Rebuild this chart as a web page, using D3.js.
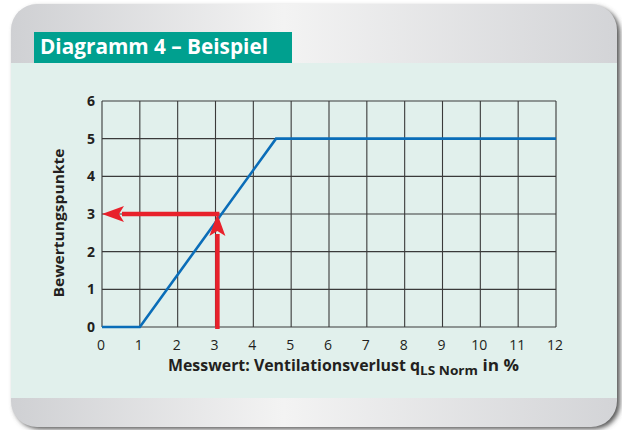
<!DOCTYPE html>
<html lang="de">
<head>
<meta charset="UTF-8">
<title>Diagramm 4 – Beispiel</title>
<script src="https://d3js.org/d3.v7.min.js"></script>
<style>
  body, html { margin: 0; padding: 0; background: #fff; }
  svg { display: block; }
  text { font-family: "Open Sans", Lato, sans-serif; fill: #231f20; }
</style>
</head>
<body>
<svg></svg>
<script>
  // data
  const xTicks = [0, 1, 2, 3, 4, 5, 6, 7, 8, 9, 10, 11, 12];
  const yTicks = [0, 1, 2, 3, 4, 5, 6];
  const curveX = [0, 1, 4.6, 12];
  const curveY = [0, 0, 5, 5];
  const exampleX = 3.05;   // Messwert im Beispiel
  const exampleY = 3;

  const W = 622, H = 430;
  const svg = d3.select("svg").attr("width", W).attr("height", H);
  const defs = svg.append("defs");

  // card gradient (grey - white - grey)
  const grad = defs.append("linearGradient").attr("id", "cardGrad")
    .attr("x1", "0%").attr("x2", "100%").attr("y1", "0%").attr("y2", "0%");
  grad.append("stop").attr("offset", "0%").attr("stop-color", "#cfd0d3");
  grad.append("stop").attr("offset", "45%").attr("stop-color", "#f3f3f3");
  grad.append("stop").attr("offset", "100%").attr("stop-color", "#d3d4d7");

  const shadow = defs.append("filter").attr("id", "shadow")
    .attr("x", "-5%").attr("y", "-5%").attr("width", "115%").attr("height", "115%");
  shadow.append("feGaussianBlur").attr("stdDeviation", 2.5);

  defs.append("clipPath").attr("id", "cardClip")
    .append("rect").attr("x", 11).attr("y", 4).attr("width", 606).attr("height", 423).attr("rx", 26);

  // card with shadow
  svg.append("rect").attr("x", 14).attr("y", 7).attr("width", 606).attr("height", 422).attr("rx", 26)
    .attr("fill", "#555").attr("filter", "url(#shadow)");
  svg.append("rect").attr("x", 11).attr("y", 4).attr("width", 606).attr("height", 423).attr("rx", 26)
    .attr("fill", "url(#cardGrad)");
  svg.append("rect").attr("clip-path", "url(#cardClip)")
    .attr("x", 11).attr("y", 63).attr("width", 606).attr("height", 335).attr("fill", "#e1f0ec");

  // title box
  svg.append("rect").attr("x", 34).attr("y", 32).attr("width", 258).attr("height", 31).attr("fill", "#00a08f");
  svg.append("text").attr("x", 40).attr("y", 54)
    .attr("textLength", 228).attr("lengthAdjust", "spacingAndGlyphs")
    .style("fill", "#fff").style("font-size", "21px").style("font-weight", 700)
    .text("Diagramm 4 – Beispiel");

  // scales
  const margin = { left: 102, top: 101, right: 556, bottom: 327 };
  const x = d3.scaleLinear().domain([0, 12]).range([margin.left, margin.right]);
  const y = d3.scaleLinear().domain([0, 6]).range([margin.bottom, margin.top]);

  const g = svg.append("g");

  // grid
  g.selectAll(".vgrid").data(xTicks).enter().append("line")
    .attr("x1", d => x(d)).attr("x2", d => x(d))
    .attr("y1", y(0)).attr("y2", y(6))
    .attr("stroke", "#3a3a3a").attr("stroke-width", 1.1);
  g.selectAll(".hgrid").data(yTicks).enter().append("line")
    .attr("x1", x(0)).attr("x2", x(12))
    .attr("y1", d => y(d)).attr("y2", d => y(d))
    .attr("stroke", "#3a3a3a").attr("stroke-width", 1.1);

  // axes labels
  g.selectAll(".xt").data(xTicks).enter().append("text")
    .attr("x", d => x(d) - 1).attr("y", 350)
    .attr("text-anchor", "middle").style("font-size", "14px")
    .text(d => d);
  g.selectAll(".yt").data(yTicks).enter().append("text")
    .attr("x", 95).attr("y", d => y(d) + 5)
    .attr("text-anchor", "end").style("font-size", "14px").style("font-weight", 700)
    .text(d => d);

  svg.append("text")
    .attr("transform", `translate(64,${(y(0) + y(6)) / 2 + 9}) rotate(-90)`)
    .attr("text-anchor", "middle").style("font-size", "15px").style("font-weight", 700)
    .attr("textLength", 149).attr("lengthAdjust", "spacingAndGlyphs")
    .text("Bewertungspunkte");

  const xl = svg.append("text").attr("x", 168).attr("y", 371)
    .style("font-size", "15.5px").style("font-weight", 700);
  xl.append("tspan").attr("textLength", 252).attr("lengthAdjust", "spacingAndGlyphs")
    .text("Messwert: Ventilationsverlust q");
  xl.append("tspan").attr("dy", 4).style("font-size", "13px")
    .attr("textLength", 58).attr("lengthAdjust", "spacingAndGlyphs").text("LS Norm");
  xl.append("tspan").attr("dy", -4).attr("textLength", 41).attr("lengthAdjust", "spacingAndGlyphs")
    .text(" in %");

  // curve
  const pts = curveX.map((d, i) => [d, curveY[i]]);
  g.append("path").datum(pts)
    .attr("d", d3.line().x(d => x(d[0])).y(d => y(d[1])))
    .attr("fill", "none").attr("stroke", "#0a6db8").attr("stroke-width", 2.6);

  // red arrows
  const red = "#e8212b";
  const ah = 22, aw = 8;
  const ex = x(exampleX), ey = y(exampleY);
  g.append("line").attr("x1", ex).attr("x2", ex)
    .attr("y1", y(0) + 2).attr("y2", ey + ah - 2)
    .attr("stroke", red).attr("stroke-width", 4.5);
  g.append("path")
    .attr("d", `M${ex},${ey} L${ex - aw},${ey + ah} L${ex},${ey + ah - 5} L${ex + aw},${ey + ah} Z`)
    .attr("fill", red);
  g.append("line").attr("x1", ex + 2).attr("x2", x(0) + ah - 2)
    .attr("y1", ey).attr("y2", ey)
    .attr("stroke", red).attr("stroke-width", 4.5);
  g.append("path")
    .attr("d", `M${x(0)},${ey} L${x(0) + ah},${ey - aw} L${x(0) + ah - 5},${ey} L${x(0) + ah},${ey + aw} Z`)
    .attr("fill", red);
</script>
</body>
</html>
